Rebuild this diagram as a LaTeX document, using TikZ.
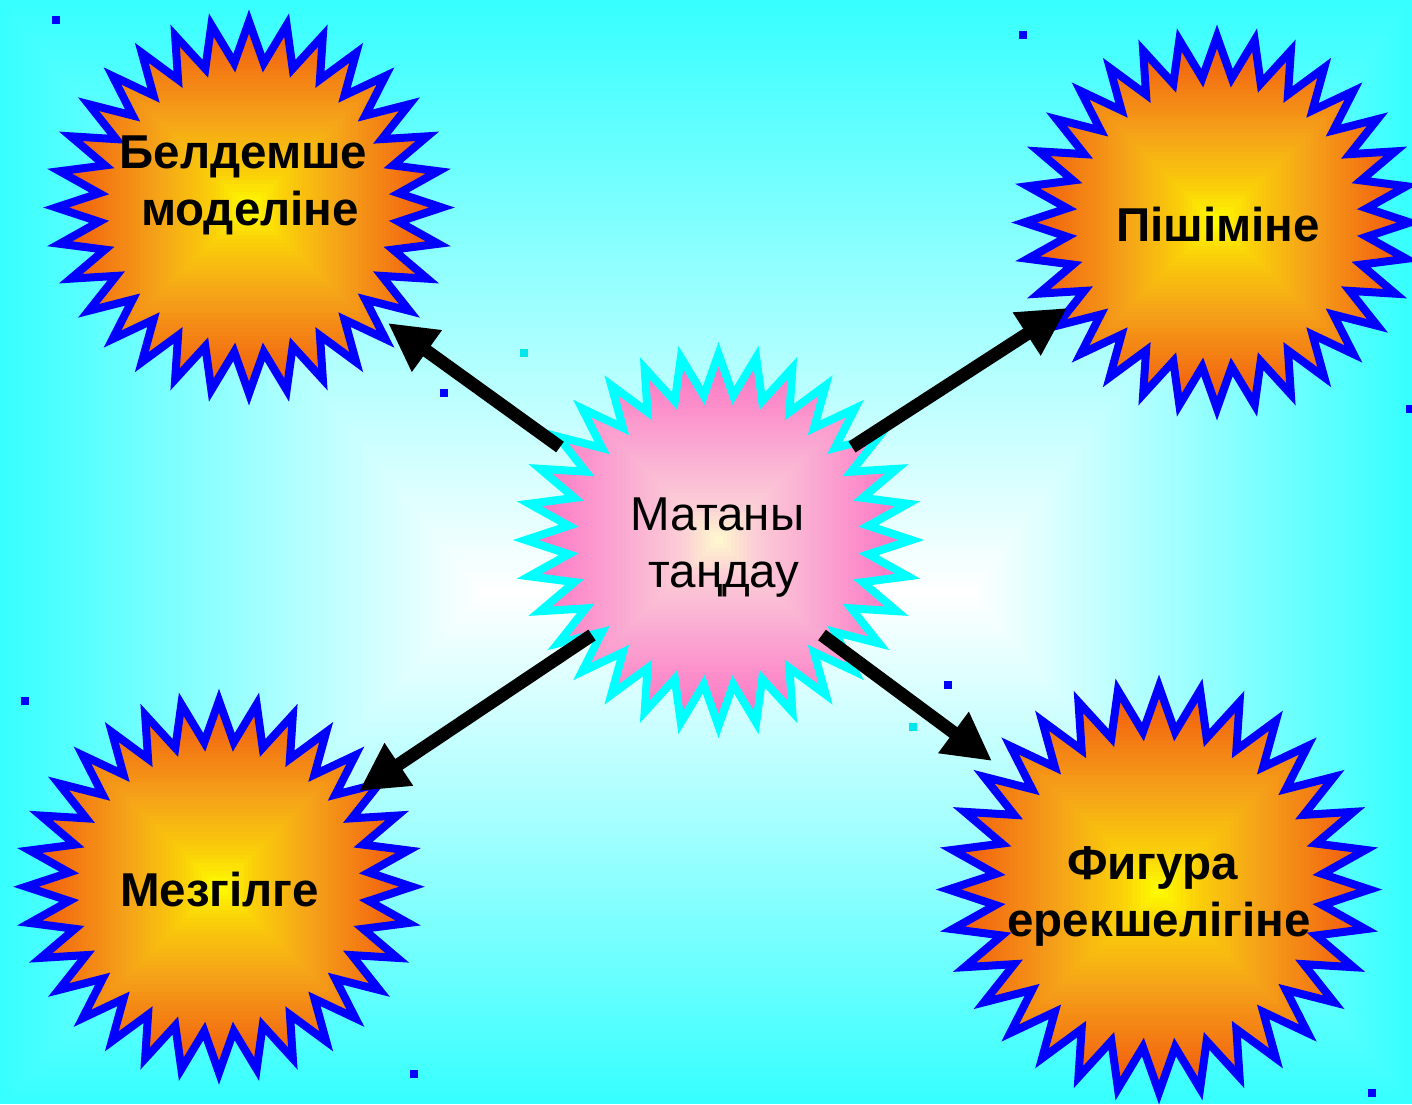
\documentclass[tikz,border=0pt]{standalone}
\usepackage{fontspec}
\setmainfont{Liberation Sans}
\usetikzlibrary{arrows.meta}

\definecolor{bgedge}{RGB}{55,255,255}
\definecolor{orA}{RGB}{242,85,12}
\definecolor{orB}{RGB}{245,160,25}
\definecolor{orC}{RGB}{250,205,10}
\definecolor{orD}{RGB}{255,255,0}
\definecolor{pkA}{RGB}{255,110,195}
\definecolor{pkB}{RGB}{250,170,210}
\definecolor{pkC}{RGB}{252,205,215}
\definecolor{pkD}{RGB}{255,250,205}
\definecolor{starblue}{RGB}{0,0,255}
\definecolor{starcyan}{RGB}{0,255,255}
\definecolor{dotcyan}{RGB}{0,230,235}

\newcommand{\burstpath}[4]{plot[samples=64,domain=0:63,variable=\k]
  ({#1+(1-0.22*mod(round(\k),2))*#3*sin(\k*5.625)},{#2-(1-0.22*mod(round(\k),2))*#4*cos(\k*5.625)}) -- cycle}

% rectangular gradient: cx cy rx ry, four colour stops at t = 0, .5, .8, 1
\newcommand{\gradfill}[8]{%
  \foreach \gi in {0,...,48}{%
    \pgfmathsetmacro{\gt}{\gi/48}%
    \pgfmathsetmacro{\gfx}{#3*(1-\gt)+0.5}%
    \pgfmathsetmacro{\gfy}{#4*(1-\gt)+0.5}%
    \ifdim\gt pt<0.5pt
      \pgfmathsetmacro{\gp}{100*\gt/0.5}%
      \colorlet{gc}{#6!\gp!#5}%
    \else
      \ifdim\gt pt<0.8pt
        \pgfmathsetmacro{\gp}{100*(\gt-0.5)/0.3}%
        \colorlet{gc}{#7!\gp!#6}%
      \else
        \pgfmathsetmacro{\gp}{100*(\gt-0.8)/0.2}%
        \colorlet{gc}{#8!\gp!#7}%
      \fi
    \fi
    \fill[gc] (#1-\gfx,#2-\gfy) rectangle (#1+\gfx,#2+\gfy);
  }}

\newcommand{\burst}[9]{%
  \begin{scope}
    \clip \burstpath{#1}{#2}{#3}{#4};
    \gradfill{#1}{#2}{#3}{#4}{#5}{#6}{#7}{#8}
  \end{scope}
  \draw[#9, line width=8pt, line join=miter] \burstpath{#1}{#2}{#3}{#4};
}

\tikzset{
  lab/.style={align=center, text=black, font=\fontsize{47.5}{57}\selectfont\bfseries},
  labreg/.style={align=center, text=black, font=\fontsize{47.5}{57}\selectfont},
  conn/.style={line width=13pt, black, -{Triangle[length=48pt,width=48pt]}},
  bluesq/.style={fill=starblue},
  cyansq/.style={fill=dotcyan}
}

\begin{document}
\begin{tikzpicture}[x=1pt,y=-1pt]
\useasboundingbox (0,0) rectangle (1412,1104);
\clip (0,0) rectangle (1412,1104);

% background rectangular gradient
\foreach \bi in {0,...,70}{%
  \pgfmathsetmacro{\bt}{\bi/70}%
  \pgfmathsetmacro{\xa}{480*\bt}%
  \pgfmathsetmacro{\ya}{588*\bt}%
  \pgfmathsetmacro{\xb}{1412-437*\bt}%
  \pgfmathsetmacro{\yb}{1104-506*\bt}%
  \pgfmathsetmacro{\bp}{100*\bt}%
  \fill[white!\bp!bgedge] (\xa,\ya) rectangle (\xb,\yb);
}

% small squares
\fill[bluesq] (52,16) rectangle ++(8,8);
\fill[bluesq] (1019,31) rectangle ++(8,8);
\fill[bluesq] (440,389) rectangle ++(8,8);
\fill[bluesq] (21,697) rectangle ++(8,8);
\fill[bluesq] (944,681) rectangle ++(8,8);
\fill[bluesq] (410,1070) rectangle ++(8,8);
\fill[bluesq] (1368,1089) rectangle ++(8,8);
\fill[bluesq] (1406,405) rectangle ++(8,8);
\fill[cyansq] (520,349) rectangle ++(8,8);
\fill[cyansq] (909,723) rectangle ++(8,8);

% stars
\burst{249}{207.5}{193}{186}{orA}{orB}{orC}{orD}{starblue}
\burst{1217}{222.5}{193}{186}{orA}{orB}{orC}{orD}{starblue}
\burst{219}{886.7}{193}{186}{orA}{orB}{orC}{orD}{starblue}
\burst{1159}{889.5}{210.5}{203}{orA}{orB}{orC}{orD}{starblue}
\burst{718.5}{540}{193}{186}{pkA}{pkB}{pkC}{pkD}{starcyan}

% labels
\node[lab] (belde) at (250,185.6) {Белдемше\hspace*{13pt}\strut\\\strut моделіне};
\node[lab] (pishim) at (1218,230.3) {\strut Пішіміне};
\node[labreg] (matan) at (724,547.6) {Матаны\hspace*{13pt}\strut\\\strut таңдау};
\node[lab] (mezgil) at (219.5,894.6) {\strut Мезгілге};
\node[lab] (figura) at (1159,897) {Фигура\hspace*{13pt}\strut\\\strut ерекшелігіне};

% connectors
\coordinate (s1) at (560,447);  \coordinate (t1) at (388,323);
\coordinate (s2) at (852,447);  \coordinate (t2) at (1067,308);
\coordinate (s3) at (592,635);  \coordinate (t3) at (359,791);
\coordinate (s4) at (822,635);  \coordinate (t4) at (992,761);
\draw[conn] (s1) -- (t1);
\draw[conn] (s2) -- (t2);
\draw[conn] (s3) -- (t3);
\draw[conn] (s4) -- (t4);
\end{tikzpicture}
\end{document}
